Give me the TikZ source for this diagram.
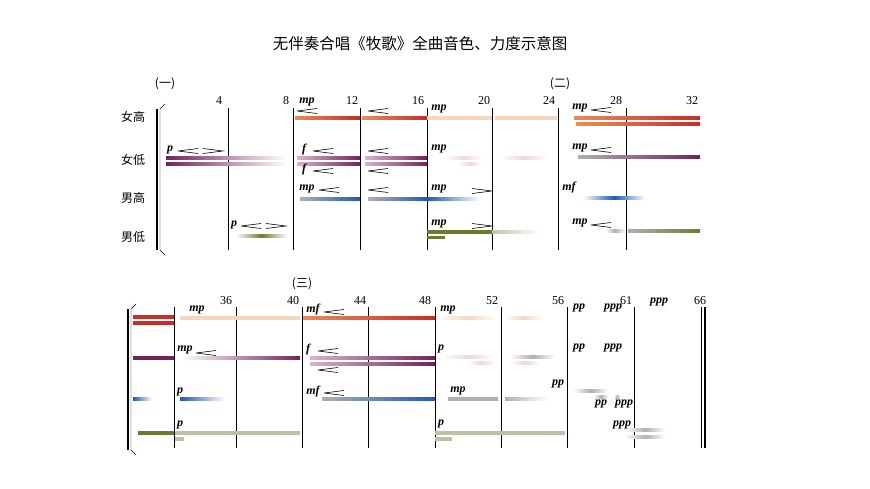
\documentclass[tikz,border=0pt]{standalone}
\usepackage{fontspec}
\setmainfont{Liberation Serif}
\newfontfamily\cjk{Noto Sans CJK SC}
\definecolor{cred}{RGB}{200,45,40}
\definecolor{corg}{RGB}{235,140,90}
\definecolor{cpch}{RGB}{245,215,190}
\definecolor{cpur}{RGB}{115,35,90}
\definecolor{clpur}{RGB}{215,180,200}
\definecolor{cblu}{RGB}{30,90,185}
\definecolor{colv}{RGB}{105,125,45}
\definecolor{cgg}{RGB}{185,195,165}
\definecolor{cgry}{RGB}{175,175,180}
\definecolor{cpink}{RGB}{240,215,215}
\newcommand\bb[5]{\shade[left color=#4,right color=#5] (#1,#3-1.6) rectangle (#2,#3+1.6);}
\newcommand\bm[4]{\shade[left color=white,right color=white,middle color=#4] (#1,#3-1.6) rectangle (#2,#3+1.6);}
\newcommand\crs[2]{\draw[line width=0.6pt] (#1,#2) -- (#1+20,#2-2.5) (#1,#2) -- (#1+20,#2+2.5);}
\newcommand\dcs[2]{\draw[line width=0.6pt] (#1,#2-2.5) -- (#1+20,#2) -- (#1,#2+2.5);}
\tikzset{dyn/.style={font=\bfseries\itshape\fontsize{12}{14}\selectfont,inner sep=0pt},
 num/.style={font=\fontsize{12}{14}\selectfont,inner sep=0pt},
 lab/.style={font=\cjk\fontsize{12}{14}\selectfont,inner sep=0pt},
 bl/.style={line width=0.7pt}}
\begin{document}
\begin{tikzpicture}[x=1pt,y=-1pt]
\useasboundingbox (0,0) rectangle (870,489);
\node[font=\cjk\fontsize{15.5}{18}\selectfont] (title) at (420,44) {无伴奏合唱《牧歌》全曲音色、力度示意图};
% ===== system 1 =====
\node[lab] (s1) at (165,84) {(一)};
\node[lab] (s2) at (560,84) {(二)};
\node[lab] (l1) at (133,117) {女高};
\node[lab] (l2) at (133,160) {女低};
\node[lab] (l3) at (133,198) {男高};
\node[lab] (l4) at (133,237) {男低};
\draw[line width=1.8pt] (157,109) -- (157,250);
\draw[thin] (160,109) -- (160,250) (160,109) -- (165,104) (160,250) -- (165,255);
\foreach \x in {228,293,360,427,492,558,626} \draw[bl] (\x,108) -- (\x,250);
\foreach \x/\n in {219/4,286/8,352/12,418/16,484/20,549/24,616/28,692/32} \node[num] at (\x,101) {\n};
% bars s1
\bb{166}{287}{158}{cpur}{white}\bb{166}{287}{164}{cpur}{white}
\bm{236}{287}{236}{colv}
\bb{295}{360}{118}{corg}{cred}\bb{362}{427}{118}{corg}{cred}
\bb{297}{360}{158}{clpur}{cpur}\bb{297}{360}{164}{clpur}{cpur}
\bb{365}{427}{158}{clpur}{cpur}\bb{365}{427}{164}{clpur}{cpur}
\bb{300}{360}{199}{cgry}{cblu}\bb{368}{427}{199}{cgry}{cblu}
\bb{427}{492}{232}{colv}{colv}\bb{492}{540}{232}{cgg}{white}
\fill[colv] (427,236.5) rectangle (445,239.5);
\fill[cpch] (427,116.4) rectangle (492,119.6);\fill[cpch] (495,116.4) rectangle (557,119.6);
\bm{445}{482}{158}{cpink}\bm{500}{548}{158}{cpink}\bm{458}{482}{164}{cpink}
\bb{427}{480}{199}{cblu}{white}
\bb{574}{700}{118}{corg}{cred}\bb{576}{700}{124}{corg}{cred}
\bb{578}{700}{157}{cgry}{cpur}
\bm{583}{645}{198}{cblu}
\bm{605}{625}{231}{cgry}\bb{628}{700}{231}{cgry}{colv}
% dynamics s1
\node[dyn] at (170,150) {p};\crs{178}{151}\dcs{203}{151}
\node[dyn] at (234,225) {p};\crs{241}{226}\dcs{266}{226}
\node[dyn] at (307,102) {mp};\crs{297}{111}
\crs{368}{111}
\node[dyn] at (304,150) {f};\crs{313}{151}\crs{368}{151}
\node[dyn] at (304,170) {f};\crs{313}{171}\crs{368}{171}
\node[dyn] at (307,189) {mp};\crs{319}{190}\crs{368}{190}
\node[dyn] at (439,109) {mp};
\node[dyn] at (439,149) {mp};
\node[dyn] at (439,189) {mp};\dcs{472}{191}
\node[dyn] at (439,224) {mp};\dcs{472}{226}
\node[dyn] at (580,108) {mp};\crs{591}{110}
\node[dyn] at (580,148) {mp};\crs{591}{150}
\node[dyn] at (569,188) {mf};
\node[dyn] at (580,223) {mp};\crs{591}{225}
% ===== system 2 =====
\node[lab] (s3) at (302,284) {(三)};
\draw[line width=1.8pt] (128,309) -- (128,450);
\draw[thin] (131,309) -- (131,450) (131,309) -- (136,304) (131,450) -- (136,455);
\foreach \x in {174,236,302,368,435,501,567,634} \draw[bl] (\x,307) -- (\x,448);
\draw[line width=0.5pt] (701,307) -- (701,448);\draw[line width=2pt] (705,307) -- (705,448);
\foreach \x/\n in {226/36,293/40,360/44,425/48,492/52,558/56,626/61,700/66} \node[num] at (\x,301) {\n};
% bars s2
\bb{133}{174}{317}{cred}{cred}\bb{133}{174}{323}{cred}{cred}
\bb{133}{174}{358}{cpur}{cpur}
\bb{133}{152}{399}{cblu}{white}
\bb{138}{174}{433}{colv}{colv}
\fill[cpch] (180,316.4) rectangle (300,319.6);
\bb{180}{300}{358}{white}{cpur}
\bb{180}{225}{399}{cblu}{white}
\fill[cgg] (175,431.4) rectangle (300,434.6);\fill[cgg] (175,437.4) rectangle (184,440.6);
\bb{303}{435}{318}{corg}{cred}
\bb{310}{435}{358}{clpur}{cpur}\bb{310}{435}{364}{clpur}{cpur}
\bb{322}{435}{399}{cgry}{cblu}
\bm{437}{497}{318}{cpch}\bm{505}{543}{318}{cpch}
\bm{442}{495}{357}{cpink}\bm{468}{495}{363}{cpink}\bm{510}{555}{357}{cgry}\bm{510}{540}{363}{cpink}
\bb{448}{498}{399}{cgry}{cgry}\bb{505}{548}{399}{cgry}{white}
\fill[cgg] (435,431.4) rectangle (565,434.6);\fill[cgg] (435,437.4) rectangle (452,440.6);
\bm{573}{608}{391}{cgry}\bm{594}{608}{397}{cgry}\bm{614}{620}{397}{cgry}
\bm{625}{665}{430}{cgry}\bm{625}{665}{437}{cgry}
% dynamics s2
\node[dyn] at (197,310) {mp};
\node[dyn] at (185,350) {mp};\crs{196}{353}
\node[dyn] at (180,392) {p};
\node[dyn] at (180,425) {p};
\node[dyn] at (313,310) {mf};\crs{324}{312}
\node[dyn] at (308,350) {f};\crs{318}{351}\crs{318}{370}
\node[dyn] at (313,392) {mf};\crs{324}{393}
\node[dyn] at (448,310) {mp};
\node[dyn] at (441,349) {p};
\node[dyn] at (458,391) {mp};
\node[dyn] at (441,424) {p};
\node[dyn] at (579,308) {pp};\node[dyn] at (613,308) {ppp};\node[dyn] at (659,302) {ppp};
\node[dyn] at (579,348) {pp};\node[dyn] at (613,348) {ppp};
\node[dyn] at (558,384) {pp};
\node[dyn] at (601,404) {pp};\node[dyn] at (624,404) {ppp};
\node[dyn] at (622,425) {ppp};
\end{tikzpicture}
\end{document}
